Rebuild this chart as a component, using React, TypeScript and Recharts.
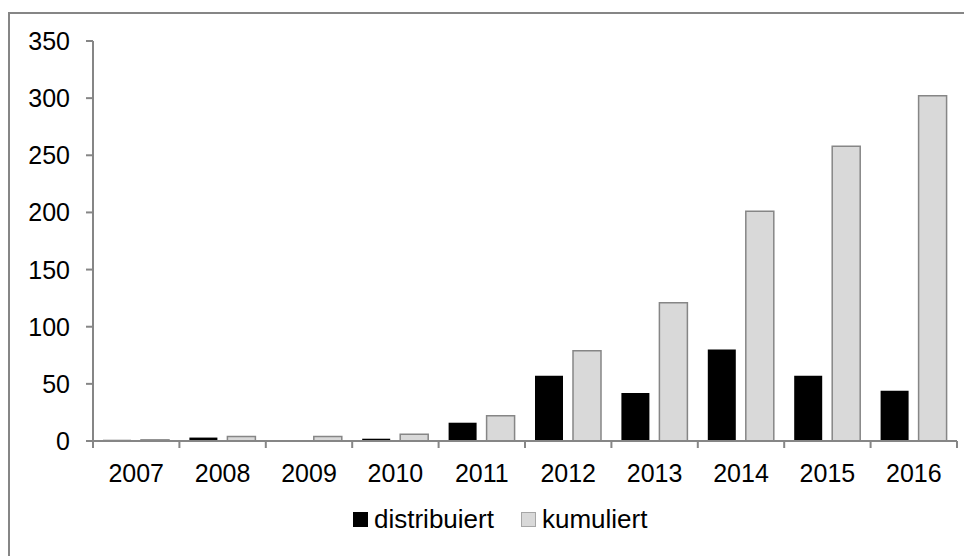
import { BarChart, Bar, XAxis, YAxis, Legend } from 'recharts';

const years = ['2007', '2008', '2009', '2010', '2011', '2012', '2013', '2014', '2015', '2016'];
const distribuiert = [1, 3, 0, 2, 16, 57, 42, 80, 57, 44];
const kumuliert = [1, 4, 4, 6, 22, 79, 121, 201, 258, 302];
const yTicks = [0, 50, 100, 150, 200, 250, 300, 350];

const data = years.map((y, i) => ({ year: y, distribuiert: distribuiert[i], kumuliert: kumuliert[i] }));

const AXIS = '#868686';
const FONT = '"Liberation Sans", Arial, sans-serif';

function XTick(props: any) {
  const { x, y, payload, index } = props;
  const half = payload?.offset ?? 43.2;
  return (
    <g>
      <line x1={x - half} x2={x - half} y1={y} y2={y + 7} stroke={AXIS} strokeWidth={2} />
      {index === years.length - 1 && (
        <line x1={x + half} x2={x + half} y1={y} y2={y + 7} stroke={AXIS} strokeWidth={2} />
      )}
      <text x={x} y={y + 41} textAnchor="middle" fontSize={25} fontFamily={FONT} fill="#000">
        {payload.value}
      </text>
    </g>
  );
}

function YTick(props: any) {
  const { x, y, payload } = props;
  return (
    <g>
      <line x1={x - 7} x2={x} y1={y} y2={y} stroke={AXIS} strokeWidth={2} />
      <text x={x - 23} y={y + 9} textAnchor="end" fontSize={25} fontFamily={FONT} fill="#000">
        {payload.value}
      </text>
    </g>
  );
}

function LegendBox() {
  const items = [
    { name: 'distribuiert', fill: '#000000', stroke: '#000000' },
    { name: 'kumuliert', fill: '#d9d9d9', stroke: '#a6a6a6' },
  ];
  return (
    <div style={{ height: 40, display: 'flex', alignItems: 'center', paddingLeft: 343, fontFamily: FONT, fontSize: 26, color: '#000' }}>
      {items.map((it, i) => (
        <div key={it.name} style={{ display: 'flex', alignItems: 'center', marginRight: i === 0 ? 27 : 0 }}>
          <span style={{ width: 13, height: 13, background: it.fill, border: `1px solid ${it.stroke}`, marginRight: 6, display: 'inline-block' }} />
          <span>{it.name}</span>
        </div>
      ))}
    </div>
  );
}

export default function App() {
  return (
    <div style={{ position: 'relative', top: 4, width: 964, height: 548, overflow: 'hidden' }}>
      <div style={{ position: 'absolute', left: 0, top: 0, width: 1000, height: 600, border: `2px solid ${AXIS}`, boxSizing: 'border-box' }} />
      <div style={{ position: 'absolute', left: 2, top: 2 }}>
        <BarChart
          width={954}
          height={546}
          data={data}
          margin={{ top: 27, right: 7, left: 0, bottom: 21 }}
          barSize={28}
          barGap={10}
        >
          <YAxis
            type="number"
            domain={[0, 350]}
            ticks={yTicks}
            width={83}
            axisLine={{ stroke: AXIS, strokeWidth: 2 }}
            tickLine={false}
            tickSize={0}
            tickMargin={0}
            tick={<YTick />}
            interval={0}
          />
          <XAxis
            dataKey="year"
            height={58}
            axisLine={{ stroke: AXIS, strokeWidth: 2 }}
            tickLine={false}
            tickSize={0}
            tickMargin={0}
            tick={<XTick />}
            interval={0}
          />
          <Legend
            verticalAlign="bottom"
            height={40}
            content={() => <LegendBox />}
            wrapperStyle={{ left: 0, width: 954 }}
          />
          <Bar dataKey="distribuiert" fill="#000000" isAnimationActive={false} />
          <Bar dataKey="kumuliert" fill="#d9d9d9" stroke={AXIS} strokeWidth={1.5} isAnimationActive={false} />
        </BarChart>
      </div>
    </div>
  );
}
